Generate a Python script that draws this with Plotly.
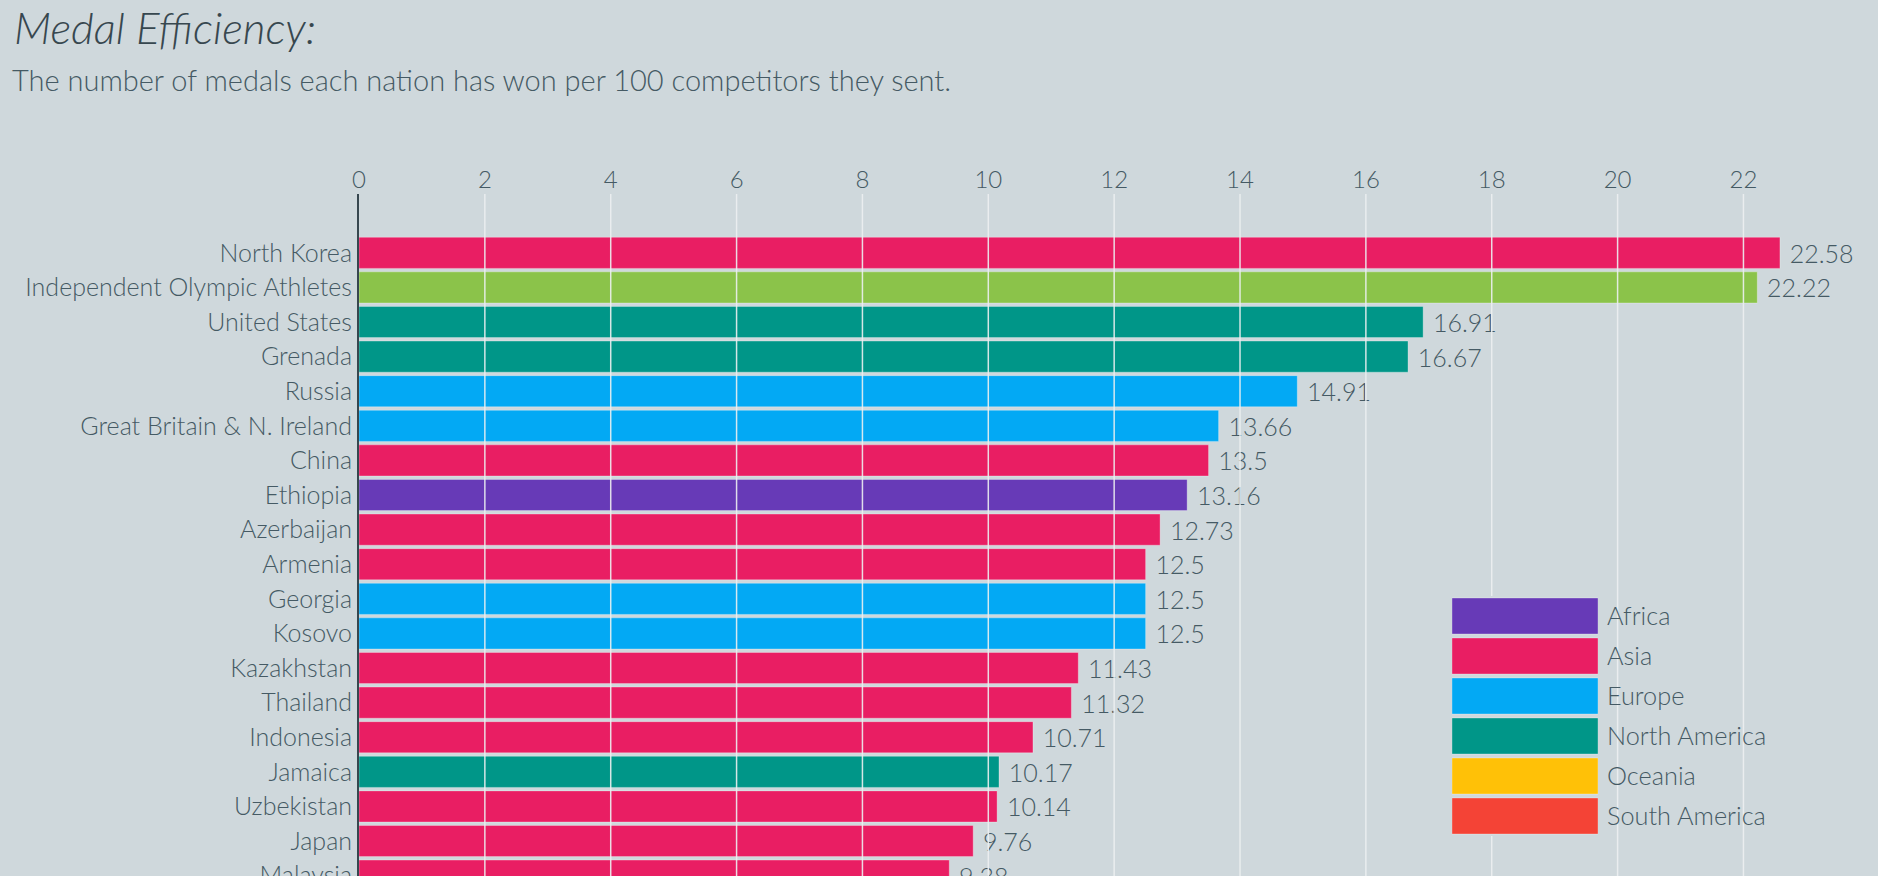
import plotly.graph_objects as go

countries = ["North Korea", "Independent Olympic Athletes", "United States", "Grenada", "Russia",
             "Great Britain & N. Ireland", "China", "Ethiopia", "Azerbaijan", "Armenia", "Georgia",
             "Kosovo", "Kazakhstan", "Thailand", "Indonesia", "Jamaica", "Uzbekistan", "Japan", "Malaysia"]
efficiency = [22.58, 22.22, 16.91, 16.67, 14.91, 13.66, 13.5, 13.16, 12.73, 12.5, 12.5,
              12.5, 11.43, 11.32, 10.71, 10.17, 10.14, 9.76, 9.38]
continent = ["Asia", "Other", "North America", "North America", "Europe",
             "Europe", "Asia", "Africa", "Asia", "Asia", "Europe",
             "Europe", "Asia", "Asia", "Asia", "North America", "Asia", "Asia", "Asia"]

legend_regions = ["Africa", "Asia", "Europe", "North America", "Oceania", "South America"]
region_colors = {"Africa": "#673AB7", "Asia": "#E91E63", "Europe": "#03A9F4",
                 "North America": "#009688", "Oceania": "#FFC107", "South America": "#F44336",
                 "Other": "#8BC34A"}
x_ticks = [0, 2, 4, 6, 8, 10, 12, 14, 16, 18, 20, 22]

BG = "#CFD8DC"
TXT = "#455A64"
FONT = "Lato Light, Lato"

W, H = 1878, 876
ML, MR, MT, MB = 359, 10, 194, 0
PW, PH = W - ML - MR, H - MT - MB

fig = go.Figure()

fig.add_trace(go.Bar(
    y=countries, x=efficiency, orientation="h",
    marker=dict(color=[region_colors[c] for c in continent],
                line=dict(color="rgba(255,255,255,0.3)", width=1)),
    text=[f" {v:g}" for v in efficiency], textposition="outside",
    textfont=dict(family=FONT, size=25, color=TXT, weight=300),
    cliponaxis=False, constraintext="none", hoverinfo="x+y",
    xaxis="x", yaxis="y", showlegend=False,
))

# grid lines drawn above the bars (overlay axis)
gx, gy = [], []
for t in x_ticks[1:]:
    gx += [t, t, None]
    gy += [0, 1, None]
fig.add_trace(go.Scatter(x=gx, y=gy, mode="lines", xaxis="x", yaxis="y3",
                         line=dict(color="rgba(236,239,241,0.9)", width=1.5),
                         hoverinfo="skip", showlegend=False))

# legend as a small bar chart
fig.add_trace(go.Bar(
    y=legend_regions, x=[1] * len(legend_regions), orientation="h",
    marker=dict(color=[region_colors[r] for r in legend_regions],
                line=dict(color="rgba(255,255,255,0.3)", width=1)),
    xaxis="x2", yaxis="y2", hoverinfo="y", showlegend=False,
))

fig.update_layout(
    width=W, height=H,
    margin=dict(l=ML, r=MR, t=MT, b=MB, pad=0),
    paper_bgcolor=BG, plot_bgcolor=BG,
    bargap=0.1,
    font=dict(family=FONT, color=TXT, weight=300),
    xaxis=dict(side="top", range=[0, (W - ML - MR) / 62.93], tickvals=x_ticks,
               showgrid=False, zeroline=False, showline=False, ticks="",
               tickfont=dict(family=FONT, size=24, color=TXT, weight=300),
               ticklabelstandoff=0, fixedrange=True),
    yaxis=dict(type="category", categoryorder="array", categoryarray=countries,
               range=[18.01, -1.70], showgrid=False, zeroline=False,
               showline=True, linecolor="#37474F", linewidth=2, ticks="",
               tickfont=dict(family=FONT, size=25, color=TXT, weight=300),
               ticklabelstandoff=0, automargin=False),
    yaxis3=dict(overlaying="y", range=[0, 1], visible=False),
    xaxis2=dict(domain=[(1452 - ML) / PW, (1598 - ML) / PW], range=[0, 1], visible=False),
    yaxis2=dict(domain=[(H - 836) / PH, (H - 596) / PH], type="category",
                categoryorder="array", categoryarray=legend_regions,
                autorange="reversed", anchor="x2", side="right",
                showgrid=False, zeroline=False, showline=False, ticks="",
                tickfont=dict(family=FONT, size=25.3, color=TXT, weight=300),
                ticklabelstandoff=8, automargin=False),
    annotations=[
        dict(text="Medal Efficiency:", xref="paper", yref="paper",
             x=(12 - ML) / PW, y=(H - 27) / PH, xanchor="left", yanchor="middle",
             showarrow=False,
             font=dict(family=FONT, size=44, color="#37474F", style="italic", weight=300)),
        dict(text="The number of medals each nation has won per 100 competitors they sent.",
             xref="paper", yref="paper",
             x=(10 - ML) / PW, y=(H - 80) / PH, xanchor="left", yanchor="middle",
             showarrow=False,
             font=dict(family=FONT, size=29, color=TXT, weight=300)),
    ],
)

fig.write_html("out.html")
